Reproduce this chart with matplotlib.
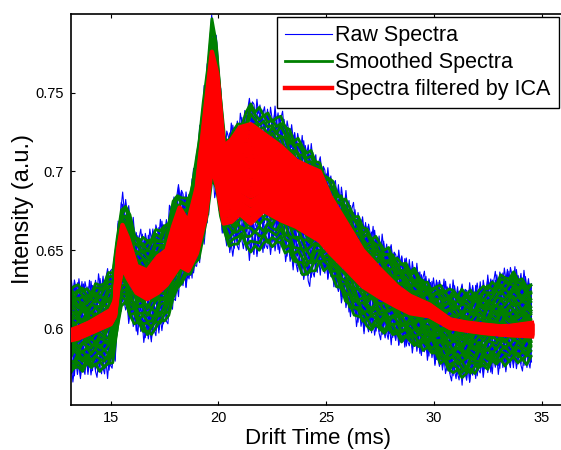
import numpy as np
import matplotlib.pyplot as plt

plt.rcParams['font.family'] = ['Liberation Sans', 'DejaVu Sans']

# envelopes (drift time in ms, intensity in a.u.)
drift_ms = [12.9, 13.5, 14.0, 14.5, 15.0, 15.2, 15.35, 15.55, 15.8, 16.2,
            16.7, 17.2, 17.6, 17.9, 18.2, 18.6, 19.0, 19.4, 19.7, 19.95,
            20.25, 20.6, 21.0, 21.5, 22.1, 22.9, 23.6, 24.2, 24.7, 25.2,
            26.0, 26.7, 27.5, 28.3, 28.9, 29.8, 30.75, 31.5, 32.3, 33.1,
            33.6, 34.55]
ica_lo = [0.592, 0.594, 0.597, 0.600, 0.603, 0.608, 0.625, 0.639, 0.632, 0.623,
          0.619, 0.623, 0.628, 0.634, 0.640, 0.637, 0.648, 0.670, 0.703, 0.690,
          0.667, 0.668, 0.673, 0.667, 0.675, 0.669, 0.665, 0.660, 0.656, 0.648,
          0.637, 0.627, 0.620, 0.614, 0.610, 0.608, 0.6006, 0.599, 0.5975, 0.5964,
          0.596, 0.5953]
ica_hi = [0.598, 0.601, 0.604, 0.608, 0.612, 0.618, 0.650, 0.666, 0.658, 0.640,
          0.637, 0.646, 0.650, 0.665, 0.677, 0.668, 0.690, 0.740, 0.776, 0.762,
          0.716, 0.720, 0.728, 0.730, 0.724, 0.716, 0.707, 0.703, 0.700, 0.684,
          0.666, 0.650, 0.638, 0.627, 0.621, 0.6154, 0.606, 0.604, 0.6027, 0.6016,
          0.602, 0.6038]
raw_lo = [0.566, 0.569, 0.570, 0.570, 0.570, 0.578, 0.600, 0.615, 0.605, 0.597,
          0.591, 0.595, 0.602, 0.612, 0.624, 0.627, 0.637, 0.655, 0.690, 0.680,
          0.656, 0.644, 0.652, 0.644, 0.648, 0.648, 0.636, 0.627, 0.636, 0.630,
          0.610, 0.598, 0.594, 0.590, 0.586, 0.581, 0.568, 0.565, 0.570, 0.573,
          0.574, 0.574]
raw_hi = [0.634, 0.632, 0.630, 0.634, 0.640, 0.645, 0.670, 0.688, 0.680, 0.663,
          0.662, 0.668, 0.671, 0.685, 0.693, 0.684, 0.714, 0.760, 0.800, 0.785,
          0.724, 0.730, 0.735, 0.748, 0.742, 0.739, 0.726, 0.718, 0.710, 0.699,
          0.685, 0.671, 0.660, 0.650, 0.644, 0.633, 0.630, 0.628, 0.631, 0.638,
          0.640, 0.633]

# where each spectrum sits inside the band (0 = bottom edge, 1 = top edge)
trace_levels = [0.0, 0.04, 0.09, 0.13, 0.18, 0.22, 0.27, 0.31, 0.35, 0.39,
                0.43, 0.47, 0.5, 0.53, 0.57, 0.6, 0.64, 0.68, 0.72, 0.76,
                0.8, 0.84, 0.88, 0.92, 0.96, 1.0]
# hand-typed wiggle pattern for the noisy traces
noise = [0.3, -0.8, 0.9, -0.2, 0.6, -1.0, 0.1, 0.7, -0.5, 0.4, -0.9, 0.8,
         -0.1, -0.6, 1.0, -0.3, 0.5, -0.7, 0.2, 0.9, -0.4, -0.9, 0.6, 0.0,
         -0.6, 0.8, -0.2, 0.4, -1.0, 0.7, 0.1, -0.5, 0.9, -0.8, 0.3, -0.3,
         0.6, -0.7, 1.0, -0.1, -0.4, 0.5, -0.9, 0.2, 0.8, -0.6, 0.4]

fig = plt.figure(figsize=(5.61, 4.5), dpi=100)
ax = fig.add_axes([0.1257, 0.1011, 0.8832, 0.8678])

x = np.array(drift_ms)
x_raw = np.arange(x[0], x[-1], 0.07)
x_sm = np.arange(x[0], x[-1], 0.2)
noise = np.array(noise)
inset = 0.006

raw_h, sm_h, ica_h = None, None, None
for k, lev in enumerate(trace_levels):
    lo = np.array(raw_lo) + inset
    hi = np.array(raw_hi) - inset
    env = lo + lev * (hi - lo)
    y_raw = np.interp(x_raw, x, env) + 0.0075 * np.resize(np.roll(noise, 5 * k), len(x_raw))
    y_sm = np.interp(x_sm, x, env) + 0.003 * np.resize(np.roll(noise, 11 * k + 3), len(x_sm))
    l1, = ax.plot(x_raw, y_raw, color='#0000ff', lw=0.8, zorder=1)
    l2, = ax.plot(x_sm, y_sm, color='#008000', lw=2.0, zorder=2)
    if raw_h is None:
        raw_h, sm_h = l1, l2

for lev in trace_levels:
    y_ica = np.array(ica_lo) + lev * (np.array(ica_hi) - np.array(ica_lo))
    l3, = ax.plot(x, y_ica, color='#ff0000', lw=3.2, zorder=3)
    if ica_h is None:
        ica_h = l3

ax.set_xlim(13.14, 36.13)
ax.set_ylim(0.552, 0.8)
ax.set_xticks([15, 20, 25, 30, 35])
ax.set_yticks([0.6, 0.65, 0.7, 0.75])
ax.set_yticklabels(['0.6', '0.65', '0.7', '0.75'])
ax.tick_params(direction='in', length=3, width=0.8, top=True, right=True,
               labelsize=10.5, pad=5)
for s in ax.spines.values():
    s.set_linewidth(1.2)

ax.set_xlabel('Drift Time (ms)', fontsize=16, labelpad=2)
ax.set_ylabel('Intensity (a.u.)', fontsize=17, labelpad=1)

leg = ax.legend([raw_h, sm_h, ica_h],
                ['Raw Spectra', 'Smoothed Spectra', 'Spectra filtered by ICA'],
                loc='upper right', bbox_to_anchor=(559 / 561, 433 / 450),
                bbox_transform=fig.transFigure, borderaxespad=0,
                fontsize=15.5, fancybox=False, framealpha=1, edgecolor='black',
                handlelength=2.2, handletextpad=0.15, labelspacing=0.28,
                borderpad=0.38)
leg.get_frame().set_linewidth(1.0)
leg.set_zorder(10)

fig.savefig('out.png', dpi=100)
